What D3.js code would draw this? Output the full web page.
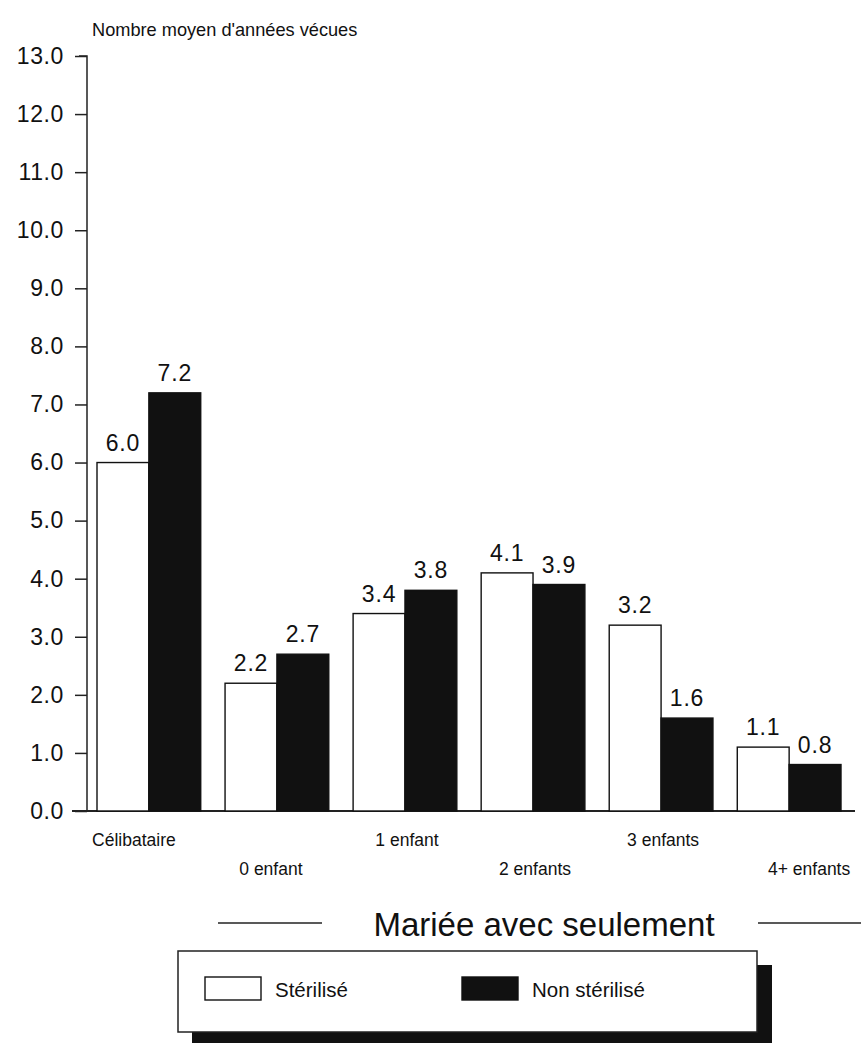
<!DOCTYPE html>
<html><head><meta charset="utf-8">
<script src="https://cdn.jsdelivr.net/npm/d3@7"></script>
<style>body{margin:0;background:#fff}svg{display:block}text{font-family:"Liberation Sans",Arial,Helvetica,sans-serif;fill:#111}</style>
</head><body><svg id="c" width="861" height="1043"></svg>
<script>
const categories = ["Célibataire","0 enfant","1 enfant","2 enfants","3 enfants","4+ enfants"];
const sterilise = [6.0,2.2,3.4,4.1,3.2,1.1];
const nonSterilise = [7.2,2.7,3.8,3.9,1.6,0.8];
const seriesNames = ["Stérilisé","Non stérilisé"];
const yTicks = d3.range(0,13.01,1);

const svg = d3.select("#c");
const y = d3.scaleLinear().domain([0,13]).range([811,56]);
const x = d3.scaleBand().domain(categories).range([97,841]).paddingInner(0.19).paddingOuter(0);
const xs = d3.scaleBand().domain(seriesNames).range([0,x.bandwidth()]);

// y axis
const yAxis = d3.axisLeft(y).tickValues(yTicks).tickFormat(d3.format(".1f")).tickSize(12).tickPadding(11);
const gy = svg.append("g").attr("transform","translate(87,0)").call(yAxis);
gy.select(".domain").attr("d","M-8,"+y(13)+"H0V"+y(0)).attr("stroke","#222").attr("stroke-width",1.5);
gy.selectAll(".tick line").attr("stroke","#222").attr("stroke-width",1.5);
gy.selectAll(".tick text").style("font-size","23px").style("letter-spacing","0.6px").attr("fill","#111");

// baseline
svg.append("line").attr("x1",72).attr("x2",855).attr("y1",y(0)).attr("y2",y(0)).attr("stroke","#222").attr("stroke-width",1.8);

// title
svg.append("text").attr("x",92).attr("y",36).style("font-size","18.2px").text("Nombre moyen d'années vécues");

const data = categories.map((c,i)=>({c, vals:[{s:seriesNames[0],v:sterilise[i]},{s:seriesNames[1],v:nonSterilise[i]}]}));
const g = svg.selectAll("g.grp").data(data).enter().append("g").attr("class","grp").attr("transform",d=>`translate(${x(d.c)},0)`);
g.selectAll("rect").data(d=>d.vals).enter().append("rect")
  .attr("x",d=>xs(d.s)).attr("width",xs.bandwidth())
  .attr("y",d=>y(d.v)).attr("height",d=>y(0)-y(d.v))
  .attr("fill",d=>d.s===seriesNames[0]?"#fff":"#111")
  .attr("stroke","#111").attr("stroke-width",1.4);
g.selectAll("text.val").data(d=>d.vals).enter().append("text").attr("class","val")
  .attr("x",d=>xs(d.s)+xs.bandwidth()/2).attr("y",d=>y(d.v)-12)
  .attr("text-anchor","middle").style("font-size","23px").style("letter-spacing","0.8px").text(d=>d.v.toFixed(1));

// category labels staggered
const labelShift = [-15,-6,2,2,2,20];
svg.selectAll("text.cat").data(categories).enter().append("text").attr("class","cat")
  .attr("x",(d,i)=>x(d)+x.bandwidth()/2 + labelShift[i]).attr("y",(d,i)=>i%2===0?846:875)
  .attr("text-anchor","middle").style("font-size","17.5px").text(d=>d);

// group title
svg.append("text").attr("x",544).attr("y",936).attr("text-anchor","middle").style("font-size","33px").text("Mariée avec seulement");
svg.append("line").attr("x1",218).attr("x2",322).attr("y1",923).attr("y2",923).attr("stroke","#222").attr("stroke-width",1.5);
svg.append("line").attr("x1",758).attr("x2",861).attr("y1",923).attr("y2",923).attr("stroke","#222").attr("stroke-width",1.5);

// legend
svg.append("rect").attr("x",192).attr("y",965).attr("width",580).attr("height",90).attr("fill","#111");
svg.append("rect").attr("x",178).attr("y",951).attr("width",579).attr("height",81).attr("fill","#fff").attr("stroke","#222").attr("stroke-width",1.5);
const lx = [205,462];
seriesNames.forEach((s,i)=>{
  svg.append("rect").attr("x",lx[i]).attr("y",977).attr("width",56).attr("height",23)
    .attr("fill",i===0?"#fff":"#111").attr("stroke","#111").attr("stroke-width",1.4);
  svg.append("text").attr("x",lx[i]+70).attr("y",997).style("font-size","20.5px").text(s);
});
</script></body></html>
